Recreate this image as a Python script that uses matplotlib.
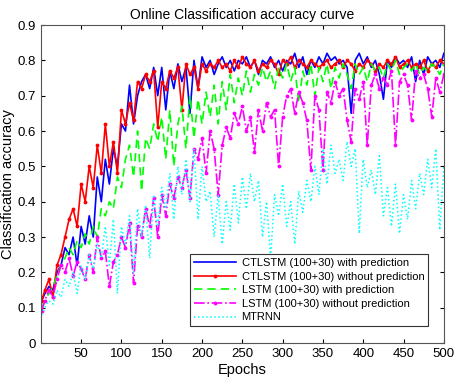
import matplotlib
matplotlib.use("Agg")
import matplotlib.pyplot as plt
import numpy as np

plt.rcParams["font.family"] = ["Liberation Sans", "DejaVu Sans"]

# epochs sampled: 1, 5, 10, ..., 500
epochs = np.r_[1, np.arange(5, 501, 5)]

ctlstm_pred = [
    0.12,
    0.14, 0.16, 0.15, 0.20, 0.22, 0.27, 0.25, 0.30, 0.22, 0.33,
    0.28, 0.36, 0.30, 0.47, 0.40, 0.52, 0.45, 0.55, 0.50, 0.62,
    0.60, 0.73, 0.62, 0.70, 0.74, 0.76, 0.72, 0.78, 0.70, 0.78,
    0.66, 0.77, 0.72, 0.79, 0.74, 0.78, 0.65, 0.80, 0.72, 0.81,
    0.78, 0.80, 0.76, 0.79, 0.81, 0.78, 0.80, 0.77, 0.80, 0.79,
    0.81, 0.78, 0.80, 0.76, 0.80, 0.79, 0.81, 0.78, 0.80, 0.77,
    0.80, 0.79, 0.82, 0.78, 0.81, 0.76, 0.80, 0.78, 0.81, 0.79,
    0.82, 0.80, 0.81, 0.79, 0.80, 0.78, 0.65, 0.80, 0.82, 0.79,
    0.81, 0.78, 0.80, 0.76, 0.69, 0.80, 0.78, 0.81, 0.79, 0.80,
    0.78, 0.81, 0.74, 0.80, 0.76, 0.81, 0.79, 0.80, 0.78, 0.82,
]
ctlstm_nopred = [
    0.12,
    0.15, 0.18, 0.13, 0.22, 0.25, 0.30, 0.35, 0.38, 0.33, 0.45,
    0.40, 0.50, 0.44, 0.56, 0.48, 0.62, 0.50, 0.57, 0.48, 0.66,
    0.62, 0.68, 0.63, 0.74, 0.72, 0.76, 0.74, 0.77, 0.61, 0.74,
    0.72, 0.77, 0.75, 0.78, 0.66, 0.79, 0.76, 0.78, 0.72, 0.79,
    0.77, 0.79, 0.78, 0.80, 0.78, 0.79, 0.77, 0.80, 0.78, 0.81,
    0.79, 0.78, 0.80, 0.77, 0.79, 0.78, 0.80, 0.79, 0.76, 0.80,
    0.79, 0.81, 0.78, 0.80, 0.79, 0.78, 0.80, 0.79, 0.78, 0.79,
    0.80, 0.78, 0.79, 0.80, 0.78, 0.80, 0.79, 0.77, 0.79, 0.78,
    0.80, 0.79, 0.77, 0.79, 0.78, 0.80, 0.79, 0.81, 0.78, 0.79,
    0.80, 0.78, 0.79, 0.78, 0.80, 0.77, 0.79, 0.78, 0.80, 0.79,
]
lstm_pred = [
    0.10,
    0.12, 0.14, 0.16, 0.19, 0.22, 0.24, 0.27, 0.25, 0.29, 0.27,
    0.31, 0.28, 0.33, 0.30, 0.38, 0.36, 0.40, 0.38, 0.47, 0.44,
    0.52, 0.56, 0.47, 0.60, 0.43, 0.58, 0.55, 0.62, 0.57, 0.64,
    0.52, 0.66, 0.50, 0.62, 0.67, 0.55, 0.70, 0.58, 0.69, 0.62,
    0.71, 0.64, 0.73, 0.62, 0.74, 0.66, 0.76, 0.68, 0.75, 0.70,
    0.77, 0.71, 0.76, 0.73, 0.78, 0.74, 0.77, 0.72, 0.78, 0.75,
    0.79, 0.74, 0.78, 0.68, 0.77, 0.73, 0.79, 0.70, 0.78, 0.74,
    0.79, 0.72, 0.78, 0.75, 0.79, 0.76, 0.72, 0.79, 0.76, 0.78,
    0.74, 0.79, 0.77, 0.78, 0.75, 0.79, 0.77, 0.80, 0.76, 0.78,
    0.79, 0.77, 0.79, 0.76, 0.78, 0.77, 0.79, 0.78, 0.76, 0.79,
]
lstm_nopred = [
    0.09,
    0.12, 0.15, 0.13, 0.18, 0.22, 0.20, 0.24, 0.19, 0.23, 0.21,
    0.18, 0.25, 0.20, 0.30, 0.24, 0.26, 0.16, 0.23, 0.25, 0.30,
    0.27, 0.34, 0.17, 0.33, 0.30, 0.38, 0.33, 0.41, 0.30, 0.42,
    0.36, 0.45, 0.41, 0.47, 0.44, 0.49, 0.41, 0.55, 0.52, 0.58,
    0.48, 0.60, 0.55, 0.42, 0.56, 0.61, 0.58, 0.65, 0.62, 0.67,
    0.60, 0.64, 0.54, 0.66, 0.60, 0.68, 0.64, 0.66, 0.50, 0.64,
    0.70, 0.72, 0.65, 0.71, 0.68, 0.63, 0.49, 0.70, 0.66, 0.49,
    0.71, 0.68, 0.74, 0.70, 0.72, 0.63, 0.57, 0.72, 0.69, 0.74,
    0.56, 0.73, 0.76, 0.72, 0.75, 0.73, 0.77, 0.56, 0.74, 0.76,
    0.73, 0.63, 0.77, 0.75, 0.76, 0.72, 0.64, 0.75, 0.71, 0.76,
]
mtrnn = [
    0.08,
    0.10, 0.12, 0.11, 0.15, 0.13, 0.18, 0.16, 0.20, 0.14, 0.22,
    0.18, 0.25, 0.21, 0.28, 0.24, 0.33, 0.22, 0.35, 0.14, 0.33,
    0.28, 0.36, 0.20, 0.38, 0.30, 0.39, 0.24, 0.42, 0.33, 0.44,
    0.38, 0.48, 0.35, 0.50, 0.42, 0.52, 0.40, 0.55, 0.35, 0.50,
    0.40, 0.43, 0.30, 0.42, 0.28, 0.40, 0.32, 0.45, 0.34, 0.47,
    0.38, 0.48, 0.40, 0.46, 0.30, 0.40, 0.24, 0.42, 0.36, 0.45,
    0.33, 0.40, 0.28, 0.43, 0.37, 0.46, 0.40, 0.50, 0.42, 0.55,
    0.45, 0.56, 0.48, 0.52, 0.46, 0.57, 0.50, 0.55, 0.31, 0.52,
    0.44, 0.49, 0.42, 0.53, 0.36, 0.44, 0.33, 0.45, 0.31, 0.42,
    0.35, 0.46, 0.38, 0.48, 0.42, 0.52, 0.44, 0.55, 0.32, 0.50,
]

labels = [
    "CTLSTM (100+30) with prediction",
    "CTLSTM (100+30) without prediction",
    "LSTM (100+30) with prediction",
    "LSTM (100+30) without prediction",
    "MTRNN",
]

fig = plt.figure(figsize=(4.59, 3.85), dpi=100)
ax = fig.add_axes([0.089, 0.109, 0.878, 0.826])

ax.plot(epochs, ctlstm_pred, color=(0, 0, 1), lw=1.2, label=labels[0])
ax.plot(epochs, ctlstm_nopred, color=(1, 0, 0), lw=1.2, marker=".", ms=3.5, label=labels[1])
ax.plot(epochs, lstm_pred, color=(0, 1, 0), lw=1.2, ls=(0, (5, 3)), label=labels[2])
ax.plot(epochs, lstm_nopred, color=(1, 0, 1), lw=1.2, ls="-.", marker=".", ms=3.5, label=labels[3])
ax.plot(epochs, mtrnn, color=(0, 1, 1), lw=1.1, ls=":", label=labels[4])

ax.set_xlim(0, 500)
ax.set_ylim(0, 0.9)
ax.set_xticks(np.arange(50, 501, 50))
ax.set_yticks(np.arange(0, 0.91, 0.1))
ax.set_yticklabels(["0"] + [f"{v:.1f}" for v in np.arange(0.1, 0.91, 0.1)])
ax.tick_params(direction="in", top=True, right=True, labelsize=9.5, length=3)
for sp in ax.spines.values():
    sp.set_color("#555555")

ax.set_xlabel("Epochs", fontsize=10.5, labelpad=2)
ax.set_ylabel("Classification accuracy", fontsize=10.5, labelpad=2)
ax.set_title("Online Classification accuracy curve", fontsize=10, pad=4)

leg = ax.legend(loc="lower right", bbox_to_anchor=(0.975, 0.035), fontsize=8,
                fancybox=False, framealpha=1, edgecolor="#333333",
                handlelength=3.8, borderpad=0.35, labelspacing=0.32, handletextpad=0.5)
leg.get_frame().set_linewidth(0.8)

fig.savefig("out.png", dpi=100)
